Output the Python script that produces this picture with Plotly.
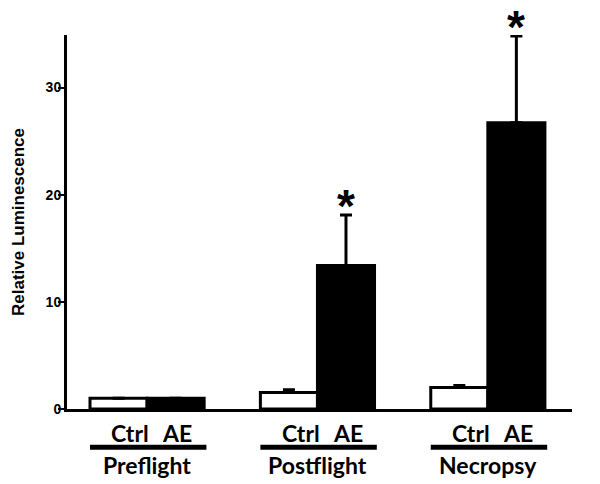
import plotly.graph_objects as go

groups = ["Preflight", "Postflight", "Necropsy"]
series_names = ["Ctrl", "AE"]
ctrl_vals = [1.0, 1.55, 2.0]
ctrl_err = [0.0, 0.25, 0.2]
ae_vals = [1.0, 13.4, 26.7]
ae_err = [0.0, 4.7, 8.1]
significant = [False, True, True]
y_ticks = [0, 10, 20, 30]

pos = list(range(len(groups)))
W = 0.335

fig = go.Figure()
fig.add_trace(go.Bar(
    x=pos, y=ctrl_vals, width=W, offset=-W, name="Ctrl",
    marker=dict(color="white", line=dict(color="black", width=3)),
    error_y=dict(type="data", array=ctrl_err, arrayminus=[0]*3, symmetric=False,
                 color="black", thickness=3, width=6),
))
fig.add_trace(go.Bar(
    x=pos, y=ae_vals, width=W, offset=0, name="AE",
    marker=dict(color="black", line=dict(color="black", width=3)),
    error_y=dict(type="data", array=ae_err, arrayminus=[0]*3, symmetric=False,
                 color="black", thickness=3, width=6),
))

# significance stars
star_x = [p + W / 2 for p, s in zip(pos, significant) if s]
star_y = [v + e for v, e, s in zip(ae_vals, ae_err, significant) if s]
for sx, sy in zip(star_x, star_y):
    fig.add_annotation(x=sx, y=sy, text="<b>*</b>", showarrow=False, yshift=9,
                       font=dict(size=46, color="black", family="Liberation Sans"),
                       xref="x", yref="y")

# category labels
for p, g in zip(pos, groups):
    for name, off in zip(series_names, [-W / 2 + 0.07, W / 2 + 0.01]):
        fig.add_annotation(x=p + off, y=-0.064, xref="x", yref="paper", text=f"<b>{name}</b>",
                           showarrow=False, font=dict(size=23, family="Lato", color="black"),
                           yanchor="middle")
    fig.add_shape(type="line", x0=p - W, x1=p + W * 1.04, y0=-0.102, y1=-0.102,
                  xref="x", yref="paper", line=dict(color="black", width=5))
    fig.add_annotation(x=p, y=-0.150, xref="x", yref="paper", text=f"<b>{g}</b>",
                       showarrow=False, font=dict(size=23, family="Lato", color="black"),
                       yanchor="middle")

fig.update_layout(
    width=592, height=476,
    margin=dict(l=59, r=28, t=27, b=75),
    paper_bgcolor="white", plot_bgcolor="white",
    showlegend=False,
    xaxis=dict(range=[-0.47, 2.494], showticklabels=False, ticks="", showgrid=False,
               zeroline=False, showline=True, linecolor="black", linewidth=3),
    yaxis=dict(range=[0, 34.9], tickvals=y_ticks, ticks="outside", ticklen=6, tickwidth=2,
               tickcolor="black", showgrid=False, zeroline=False, showline=True,
               linecolor="black", linewidth=3, automargin=False, ticklabelstandoff=-6,
               tickfont=dict(size=14, family="Liberation Sans", color="black", weight="bold"),
               title=dict(text="<b>Relative Luminescence</b>", standoff=17,
                          font=dict(size=17, family="Liberation Sans", color="black"))),
)

fig.write_html("out.html")
